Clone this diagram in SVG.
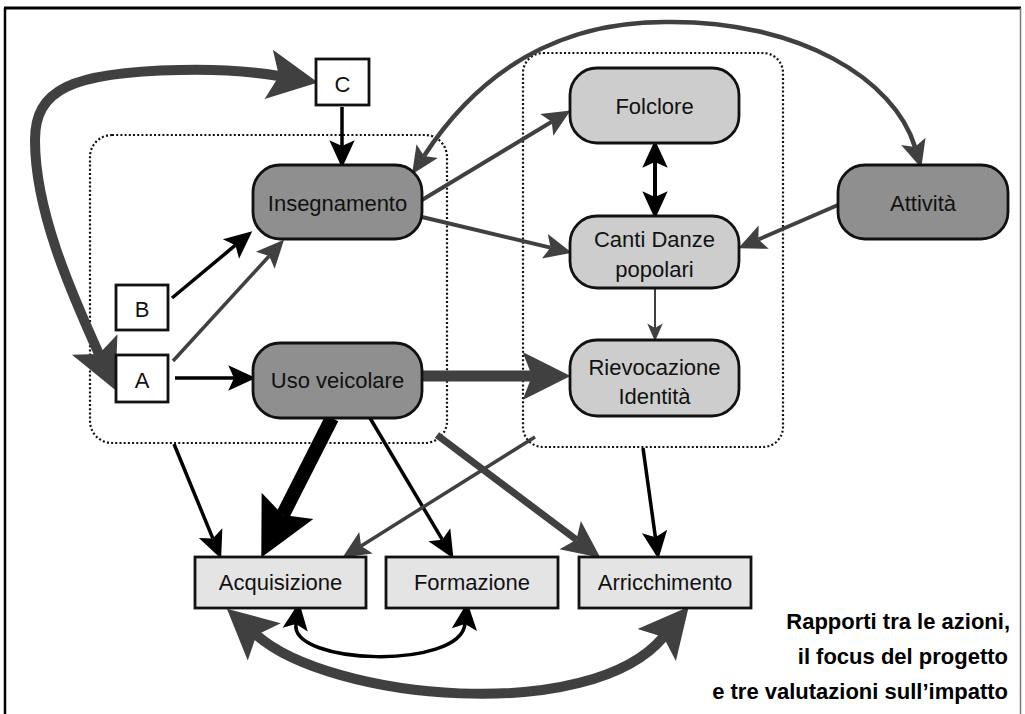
<svg xmlns="http://www.w3.org/2000/svg" width="1025" height="714" viewBox="0 0 1025 714">
<style>
  .lbl { font-family: "Liberation Sans", Arial, sans-serif; font-size: 22px; fill: #111; text-anchor: middle; }
  .cap { font-family: "Liberation Sans", Arial, sans-serif; font-size: 22px; font-weight: bold; fill: #000; text-anchor: end; }
  .dark { fill: #8f8f8f; stroke: #111; stroke-width: 2.8; }
  .light { fill: #cdcdcd; stroke: #111; stroke-width: 2.8; }
  .box { fill: #e4e4e4; stroke: #111; stroke-width: 2.8; }
  .letter { fill: #fff; stroke: #111; stroke-width: 2.8; }
  .grp { fill: none; stroke: #111; stroke-width: 2.2; stroke-dasharray: 2 2.2; }
  .cb { fill: none; stroke: #000; stroke-width: 3.5; }
  .cg { fill: none; stroke: #404040; stroke-width: 4; }
</style>
<defs>
  <marker id="ab" markerUnits="userSpaceOnUse" markerWidth="30" markerHeight="30" viewBox="0 -12 26 24" refX="5" refY="0" orient="auto-start-reverse" overflow="visible">
    <path d="M0,-11 L24,0 L0,11 L5,0 z" fill="#000"/>
  </marker>
  <marker id="ag" markerUnits="userSpaceOnUse" markerWidth="30" markerHeight="30" viewBox="0 -12 26 24" refX="5" refY="0" orient="auto-start-reverse" overflow="visible">
    <path d="M0,-11 L24,0 L0,11 L5,0 z" fill="#404040"/>
  </marker>
  <marker id="ags" markerUnits="userSpaceOnUse" markerWidth="20" markerHeight="20" viewBox="0 -8 18 16" refX="4" refY="0" orient="auto" overflow="visible">
    <path d="M0,-7 L16,0 L0,7 L4,0 z" fill="#404040"/>
  </marker>
  <marker id="agm" markerUnits="userSpaceOnUse" markerWidth="40" markerHeight="40" viewBox="0 -17 36 34" refX="7" refY="0" orient="auto" overflow="visible">
    <path d="M0,-16 L34,0 L0,16 L7,0 z" fill="#404040"/>
  </marker>
  <marker id="agl" markerUnits="userSpaceOnUse" markerWidth="50" markerHeight="50" viewBox="0 -24 48 48" refX="9" refY="0" orient="auto" overflow="visible">
    <path d="M0,-23 L46,0 L0,23 L9,0 z" fill="#404040"/>
  </marker>
  <marker id="abx" markerUnits="userSpaceOnUse" markerWidth="60" markerHeight="60" viewBox="0 -29 58 58" refX="10" refY="0" orient="auto" overflow="visible">
    <path d="M0,-28 L56,0 L0,28 L10,0 z" fill="#000"/>
  </marker>
  <marker id="agc" markerUnits="userSpaceOnUse" markerWidth="52" markerHeight="52" viewBox="0 -25 50 50" refX="10" refY="0" orient="auto-start-reverse" overflow="visible">
    <path d="M0,-24 L48,0 L0,24 L10,0 z" fill="#404040"/>
  </marker>
</defs>

<g id="frame">
  <line x1="4" y1="8" x2="1021" y2="8" stroke="#000" stroke-width="3"/>
  <line x1="5" y1="8" x2="5" y2="714" stroke="#000" stroke-width="2.5"/>
  <line x1="1020.5" y1="8" x2="1020.5" y2="714" stroke="#777" stroke-width="1.5"/>
</g>

<g id="groups">
  <rect id="group-left" class="grp" x="90" y="135" width="357" height="308" rx="22"/>
  <rect id="group-right" class="grp" x="523" y="53" width="260" height="394" rx="20"/>
</g>

<g id="connectors">
  <path class="cb" d="M342,107 L342,146" marker-end="url(#ab)"/>
  <path class="cb" d="M172,298 L235.4,245.2" marker-end="url(#ab)"/>
  <path class="cg" style="stroke-width:3.5" d="M173,361 L269.2,256" marker-end="url(#ag)"/>
  <path class="cb" d="M175,378 L234,378" marker-end="url(#ab)"/>
  <path class="cg" d="M422,200 L551.7,121.8" marker-end="url(#ag)"/>
  <path class="cg" d="M422,217 L550.5,247.6" marker-end="url(#ag)"/>
  <path class="cb" style="stroke-width:4" d="M655,162 L655,197" marker-start="url(#ab)" marker-end="url(#ab)"/>
  <path class="cg" d="M838,205 L758.4,239.5" marker-end="url(#ag)"/>
  <path class="cg" style="stroke-width:2" d="M655,288 L655,328" marker-end="url(#ags)"/>
  <path class="cg" style="stroke-width:11" d="M422,376 L532,376" marker-end="url(#agl)"/>
  <path class="cb" style="stroke-width:14" d="M332,418 L282.8,515" marker-end="url(#abx)"/>
  <path class="cb" d="M174,444 L212.8,538.4" marker-end="url(#ab)"/>
  <path class="cb" d="M370,418 L442.3,539.7" marker-end="url(#ab)"/>
  <path class="cg" style="stroke-width:7" d="M437,435 L576.4,539.8" marker-end="url(#agm)"/>
  <path class="cg" style="stroke-width:3.5" d="M535,437 L361.1,545.9" marker-end="url(#ag)"/>
  <path class="cb" d="M643,448 L655.4,537.2" marker-end="url(#ab)"/>
  <path class="cg" style="stroke-width:4.5" d="M424,156 C480,70 560,22 665,22 C800,20 895,80 915,147" marker-start="url(#ag)" marker-end="url(#ag)"/>
  <path class="cg" style="stroke-width:10" d="M99,354 C70,290 35,210 35,140 C35,90 70,72 180,70 C225,69 255,72 279,76" marker-start="url(#agc)" marker-end="url(#agc)"/>
  <path class="cb" d="M296,624 C290,665 460,670 465,624" marker-start="url(#ab)" marker-end="url(#ab)"/>
  <path class="cg" style="stroke-width:10" d="M256.5,635 C330,700 590,725 663.4,637" marker-start="url(#agc)" marker-end="url(#agc)"/>
</g>

<g id="node-C"><rect class="letter" x="316" y="59" width="53" height="46"/><text class="lbl" x="342.5" y="92">C</text></g>
<g id="node-B"><rect class="letter" x="116" y="285" width="52" height="45"/><text class="lbl" x="142" y="317">B</text></g>
<g id="node-A"><rect class="letter" x="116" y="355" width="52" height="47"/><text class="lbl" x="142" y="388">A</text></g>
<g id="node-insegnamento"><rect class="dark" x="253" y="165" width="169" height="74" rx="27"/><text class="lbl" x="337.5" y="211">Insegnamento</text></g>
<g id="node-uso"><rect class="dark" x="253" y="343" width="169" height="75" rx="27"/><text class="lbl" x="337.5" y="388">Uso veicolare</text></g>
<g id="node-folclore"><rect class="light" x="570" y="68" width="169" height="75" rx="27"/><text class="lbl" x="654.5" y="114">Folclore</text></g>
<g id="node-canti"><rect class="light" x="570" y="216" width="169" height="72" rx="27"/><text class="lbl" x="654.5" y="247">Canti Danze</text><text class="lbl" x="654.5" y="277">popolari</text></g>
<g id="node-rievocazione"><rect class="light" x="570" y="340" width="169" height="76" rx="27"/><text class="lbl" x="654.5" y="375">Rievocazione</text><text class="lbl" x="654.5" y="404">Identità</text></g>
<g id="node-attivita"><rect class="dark" x="838" y="165" width="170" height="74" rx="27"/><text class="lbl" x="923" y="211">Attività</text></g>
<g id="node-acquisizione"><rect class="box" x="195" y="557" width="171" height="51"/><text class="lbl" x="280.5" y="590">Acquisizione</text></g>
<g id="node-formazione"><rect class="box" x="386" y="557" width="172" height="51"/><text class="lbl" x="472" y="590">Formazione</text></g>
<g id="node-arricchimento"><rect class="box" x="579" y="557" width="172" height="51"/><text class="lbl" x="665" y="590">Arricchimento</text></g>

<g id="caption">
  <text class="cap" x="1010" y="629">Rapporti tra le azioni,</text>
  <text class="cap" x="1008" y="664">il focus del progetto</text>
  <text class="cap" x="1008" y="699">e tre valutazioni sull’impatto</text>
</g>
</svg>
